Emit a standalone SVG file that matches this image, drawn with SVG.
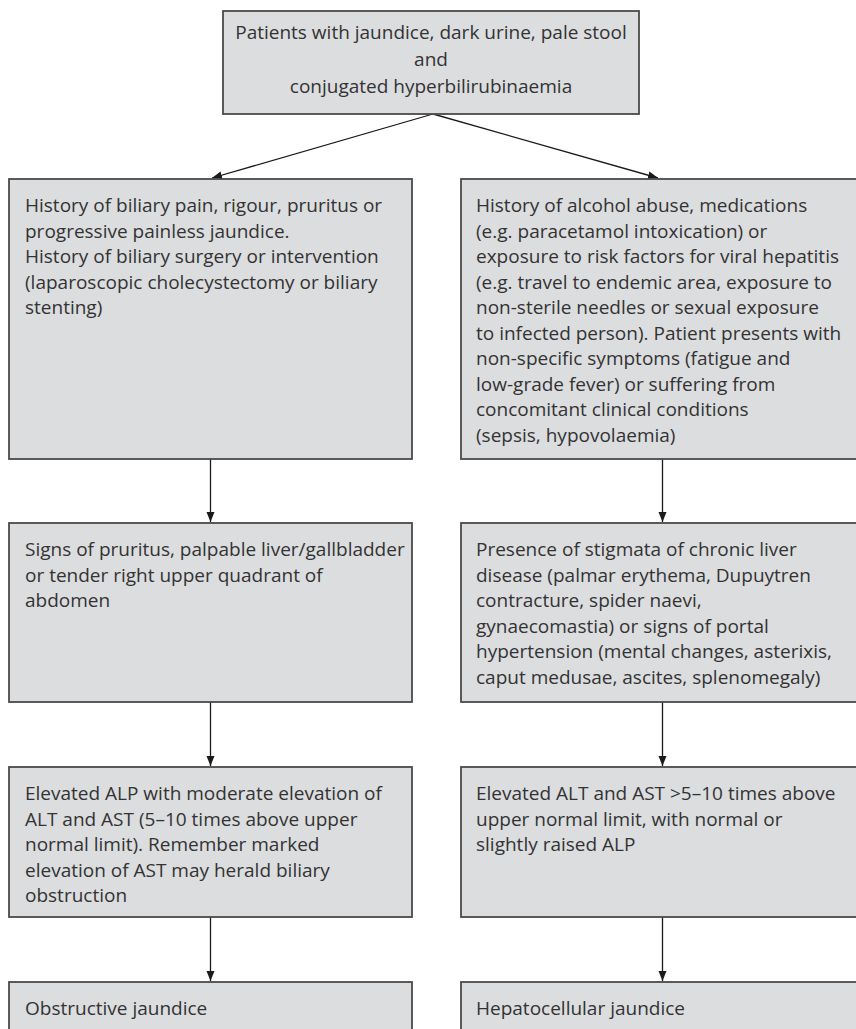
<svg xmlns="http://www.w3.org/2000/svg" width="856" height="1029" viewBox="0 0 856 1029">
<defs>
<style>
.box{fill:#dcdddf;stroke:#4a4a4a;stroke-width:1.8}
.t{font-family:"Open Sans","Noto Sans","Liberation Sans",sans-serif;font-size:19px;fill:#333333}
.c{text-anchor:middle}
.ln{stroke:#1a1a1a;stroke-width:1.3;fill:none}
</style>
<marker id="ah" markerWidth="10" markerHeight="10" refX="10" refY="5" orient="auto" markerUnits="userSpaceOnUse" viewBox="0 0 10 10">
<path d="M0,1 L10,5 L0,9 Z" fill="#1a1a1a"/>
</marker>
</defs>
<rect width="856" height="1029" fill="#ffffff"/>
<g id="connectors">
<line class="ln" x1="433" y1="114" x2="212" y2="178" marker-end="url(#ah)"/>
<line class="ln" x1="433" y1="114" x2="658" y2="178" marker-end="url(#ah)"/>
<line class="ln" x1="210.5" y1="459" x2="210.5" y2="522" marker-end="url(#ah)"/>
<line class="ln" x1="662.5" y1="459" x2="662.5" y2="522" marker-end="url(#ah)"/>
<line class="ln" x1="210.5" y1="702" x2="210.5" y2="766" marker-end="url(#ah)"/>
<line class="ln" x1="662.5" y1="702" x2="662.5" y2="766" marker-end="url(#ah)"/>
<line class="ln" x1="210.5" y1="917" x2="210.5" y2="981" marker-end="url(#ah)"/>
<line class="ln" x1="662.5" y1="917" x2="662.5" y2="981" marker-end="url(#ah)"/>
</g>
<g id="top">
<rect class="box" x="223" y="11" width="416" height="103"/>
<text class="t c" x="431" y="39">Patients with jaundice, dark urine, pale stool</text>
<text class="t c" x="431" y="66">and</text>
<text class="t c" x="431" y="93">conjugated hyperbilirubinaemia</text>
</g>
<g id="l1">
<rect class="box" x="9" y="179" width="403" height="280"/>
<text class="t" x="25" y="212">History of biliary pain, rigour, pruritus or</text>
<text class="t" x="25" y="237.5">progressive painless jaundice.</text>
<text class="t" x="25" y="263">History of biliary surgery or intervention</text>
<text class="t" x="25" y="288.5">(laparoscopic cholecystectomy or biliary</text>
<text class="t" x="25" y="314">stenting)</text>
</g>
<g id="r1">
<rect class="box" x="461" y="179" width="403" height="280"/>
<text class="t" x="476" y="212">History of alcohol abuse, medications</text>
<text class="t" x="476" y="237.5">(e.g. paracetamol intoxication) or</text>
<text class="t" x="476" y="263">exposure to risk factors for viral hepatitis</text>
<text class="t" x="476" y="288.5">(e.g. travel to endemic area, exposure to</text>
<text class="t" x="476" y="314">non-sterile needles or sexual exposure</text>
<text class="t" x="476" y="339.5">to infected person). Patient presents with</text>
<text class="t" x="476" y="365">non-specific symptoms (fatigue and</text>
<text class="t" x="476" y="390.5">low-grade fever) or suffering from</text>
<text class="t" x="476" y="416">concomitant clinical conditions</text>
<text class="t" x="476" y="441.5">(sepsis, hypovolaemia)</text>
</g>
<g id="l2">
<rect class="box" x="9" y="523" width="403" height="179"/>
<text class="t" x="25" y="556">Signs of pruritus, palpable liver/gallbladder</text>
<text class="t" x="25" y="581.5">or tender right upper quadrant of</text>
<text class="t" x="25" y="607">abdomen</text>
</g>
<g id="r2">
<rect class="box" x="461" y="523" width="403" height="179"/>
<text class="t" x="476" y="556">Presence of stigmata of chronic liver</text>
<text class="t" x="476" y="581.5">disease (palmar erythema, Dupuytren</text>
<text class="t" x="476" y="607">contracture, spider naevi,</text>
<text class="t" x="476" y="632.5">gynaecomastia) or signs of portal</text>
<text class="t" x="476" y="658">hypertension (mental changes, asterixis,</text>
<text class="t" x="476" y="683.5">caput medusae, ascites, splenomegaly)</text>
</g>
<g id="l3">
<rect class="box" x="9" y="767" width="403" height="150"/>
<text class="t" x="25" y="800">Elevated ALP with moderate elevation of</text>
<text class="t" x="25" y="825.5">ALT and AST (5–10 times above upper</text>
<text class="t" x="25" y="851">normal limit). Remember marked</text>
<text class="t" x="25" y="876.5">elevation of AST may herald biliary</text>
<text class="t" x="25" y="902">obstruction</text>
</g>
<g id="r3">
<rect class="box" x="461" y="767" width="403" height="150"/>
<text class="t" x="476" y="800">Elevated ALT and AST &gt;5–10 times above</text>
<text class="t" x="476" y="825.5">upper normal limit, with normal or</text>
<text class="t" x="476" y="851">slightly raised ALP</text>
</g>
<g id="l4">
<rect class="box" x="9" y="982" width="403" height="60"/>
<text class="t" x="25" y="1015">Obstructive jaundice</text>
</g>
<g id="r4">
<rect class="box" x="461" y="982" width="403" height="60"/>
<text class="t" x="476" y="1015">Hepatocellular jaundice</text>
</g>
</svg>
